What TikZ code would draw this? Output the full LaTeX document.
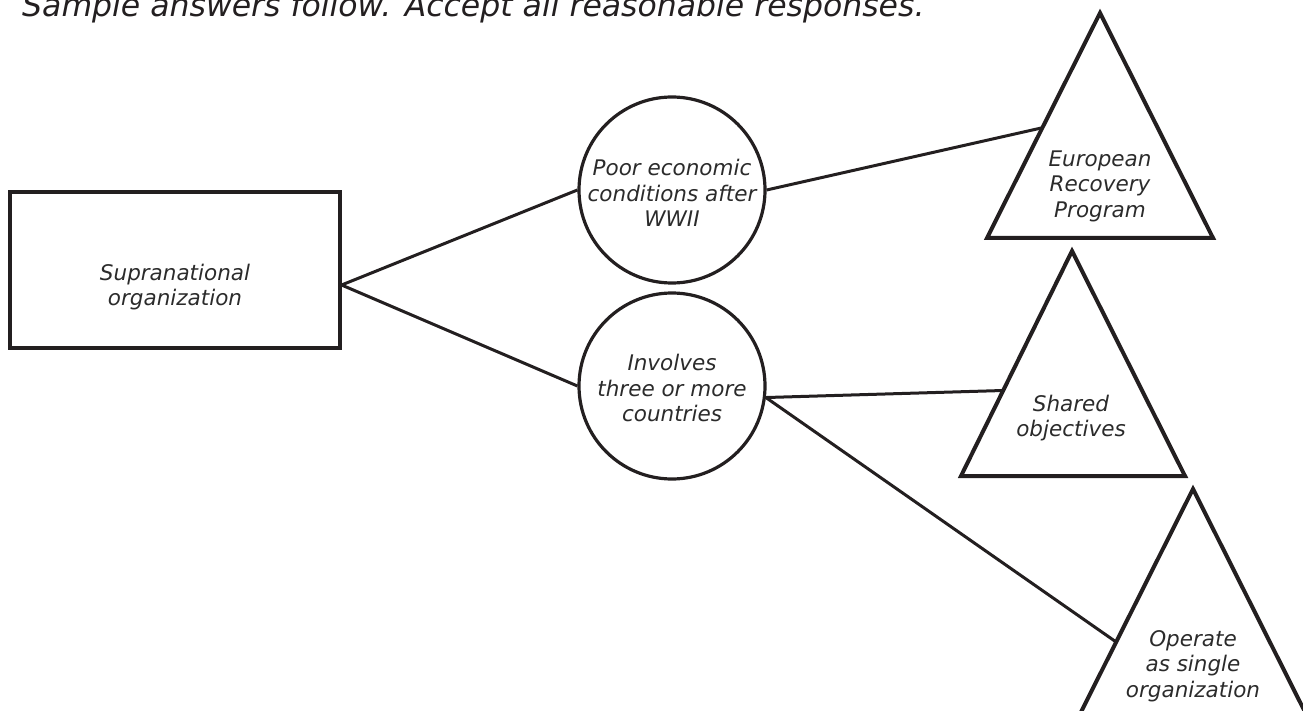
\documentclass[tikz,border=0pt]{standalone}
\usepackage{fontspec}
\setmainfont{DejaVu Sans}
\usetikzlibrary{calc}
\definecolor{ink}{HTML}{231F20}
\definecolor{txt}{HTML}{2B2B2B}
\begin{document}
\begin{tikzpicture}[x=1pt,y=-1pt,
  line join=miter,
  link/.style={draw=ink,line width=3pt},
  shapeline/.style={draw=ink,line width=3.2pt},
  rimline/.style={draw=ink,line width=4pt},
  lbl/.style={text=txt,font=\fontsize{21.5}{25.5}\selectfont\itshape,align=center,inner sep=0pt}]
\useasboundingbox (0,0) rectangle (1303,711);
\begin{scope}
\clip (0,0) rectangle (1303,711);

% heading, cut at the top edge
\node[anchor=base west,inner sep=0pt,text=ink,font=\fontsize{31.5}{36}\selectfont\itshape]
  (head) at (22,17) {Sample answers follow. Accept all reasonable responses.};

% start box
\node[shapeline,draw,minimum width=330pt,minimum height=156pt,inner sep=0pt]
  (org) at (175,270) {};
\node[lbl] (orgtxt) at (175,287) {Supranational\\organization};

% circles
\node[shapeline,draw,circle,minimum size=186pt,inner sep=0pt] (poor) at (672,190) {};
\node[lbl] (poortxt) at (672,193) {Poor economic\\conditions after\\WWII};
\node[shapeline,draw,circle,minimum size=186pt,inner sep=0pt] (inv) at (672,386) {};
\node[lbl] (invtxt) at (672,388) {Involves\\three or more\\countries};

% triangles: corners
\coordinate (t1a) at (1100,13);  \coordinate (t1l) at (987,238);  \coordinate (t1r) at (1213,238);
\coordinate (t2a) at (1072,251); \coordinate (t2l) at (961,476);  \coordinate (t2r) at (1185,476);
\coordinate (t3a) at (1193,489); \coordinate (t3l) at (1080,714); \coordinate (t3r) at (1306,714);
\draw[rimline] (t1a) -- (t1l) -- (t1r) -- cycle;
\draw[rimline] (t2a) -- (t2l) -- (t2r) -- cycle;
\draw[rimline] (t3a) -- (t3l) -- (t3r) -- cycle;
\node[lbl] (erp) at (1100,186) {European\\Recovery\\Program};
\node[lbl] (shared) at (1071,418) {Shared\\objectives};
\node[lbl] (single) at (1193,666) {Operate\\as single\\organization};

% attachment points on the triangles' left sides
\coordinate (t1in) at ($(t1l)!0.49!(t1a)$);
\coordinate (t2in) at ($(t2l)!0.38!(t2a)$);
\coordinate (t3in) at ($(t3l)!0.32!(t3a)$);
\coordinate (orgout) at ($(org.east)+(0,15)$);

% connectors
\draw[link] (orgout) -- (poor.west);
\draw[link] (orgout) -- (inv.west);
\draw[link] (poor.east) -- (t1in);
\draw[link] (inv.-7) -- (t2in);
\draw[link] (inv.-7) -- (t3in);
\end{scope}
\end{tikzpicture}
\end{document}
